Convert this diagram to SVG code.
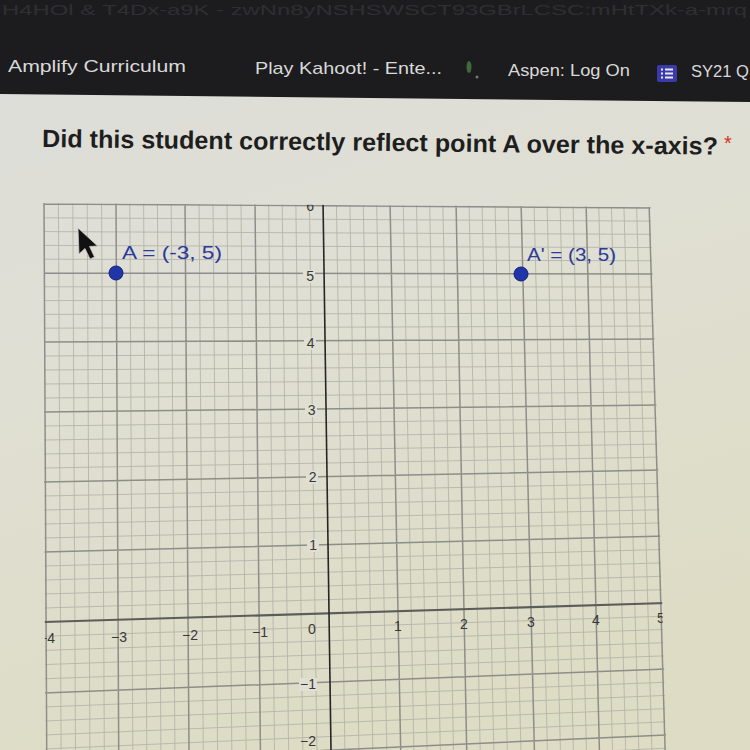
<svg xmlns="http://www.w3.org/2000/svg" width="750" height="750" viewBox="0 0 750 750">
<style>
.bm{font-family:"Liberation Sans","Noto Sans",sans-serif;font-size:17px;fill:#d9d9d9}
.title{font-family:"Liberation Sans","Noto Sans",sans-serif;font-size:25px;font-weight:bold;fill:#1e1e1e}
.minor{fill:none;stroke:#b4b5aa;stroke-width:0.9}
.major{fill:none;stroke:#8d8e89;stroke-width:1.5}
.lab{font-family:"Liberation Sans","Noto Sans",sans-serif;font-size:14px;fill:#383838}
.lbg{fill:#dfdfd3}
.ptlab{font-family:"Liberation Sans","Noto Sans",sans-serif;font-size:18px;fill:#2b3a9c}
.pt{fill:#1f35a8;stroke:#14207a;stroke-width:1}
</style>
<defs>
<linearGradient id="bg" x1="0" y1="0" x2="0.3" y2="1">
<stop offset="0" stop-color="#dddddb"/>
<stop offset="0.5" stop-color="#dfdfd3"/>
<stop offset="1" stop-color="#dedcc5"/>
</linearGradient>
<clipPath id="gridclip"><polygon points="42.5,203 650.5,207 666.5,750 45.5,750"/></clipPath>
</defs>
<rect width="750" height="750" fill="url(#bg)"/>
<g id="header">
<polygon points="0,0 750,0 750,102 0,94" fill="#1c1c1e"/>
<text x="2" y="15" font-family="Liberation Sans,sans-serif" font-size="15" fill="#2f2f32" textLength="745" lengthAdjust="spacingAndGlyphs">H4HOl &amp; T4Dx-a9K - zwNn8yNSHSWSCT93GBrLCSC:mHtTXk-a-mrq</text>
<text class="bm" x="8" y="72" textLength="178" lengthAdjust="spacingAndGlyphs">Amplify Curriculum</text>
<text class="bm" x="255" y="74" textLength="187" lengthAdjust="spacingAndGlyphs">Play Kahoot! - Ente...</text>
<ellipse cx="469" cy="67" rx="2.5" ry="6" fill="#3f6b3c"/>
<circle cx="477" cy="77" r="1.5" fill="#777"/>
<text class="bm" x="508" y="76" textLength="122" lengthAdjust="spacingAndGlyphs">Aspen: Log On</text>
<rect x="657" y="65" width="20" height="17" rx="2" fill="#3a3aa8"/>
<path d="M661 69.5h2M665 69.5h8M661 73.5h2M665 73.5h8M661 77.5h2M665 77.5h8" stroke="#e8e8f5" stroke-width="2"/>
<text class="bm" x="691" y="77" textLength="58" lengthAdjust="spacingAndGlyphs">SY21 Q</text>
</g>
<g id="question">
<text class="title" x="42" y="147" transform="rotate(0.65 42 147)" textLength="676" lengthAdjust="spacingAndGlyphs">Did this student correctly reflect point A over the x-axis?</text>
<text x="724" y="150" font-family="Liberation Sans,sans-serif" font-size="20" fill="#d93025">*</text>
</g>
<g id="grid" clip-path="url(#gridclip)">
<path class="minor" d="M58.4 200L61.1 750M72.8 200L75.5 750M87.2 200L89.9 750M101.6 200L104.3 750M129.8 200L132.8 750M143.6 200L146.8 750M157.4 200L160.9 750M171.2 200L174.9 750M199 200L203.3 750M213 200L217.6 750M227 200L231.8 750M241 200L246.1 750M268.6 200L274.5 750M282.2 200L288.6 750M295.8 200L302.8 750M309.4 200L316.9 750M336.4 200L344.9 750M349.8 200L358.9 750M363.2 200L372.8 750M376.6 200L386.8 750M403.2 200L413.9 750M416.4 200L427.1 750M429.6 200L440.3 750M442.8 200L453.5 750M469 200L480.2 750M482 200L493.8 750M495 200L507.3 750M508 200L520.9 750M534 200L547.4 750M547 200L560.4 750M560 200L573.4 750M573 200L586.4 750M598.6 200L612.5 750M611.2 200L625.7 750M623.8 200L638.8 750M636.4 200L651.9 750
M44 217.8L666 221.2M44 231.6L666 234.4M44 245.4L666 247.6M44 259.2L666 260.8M44 286.8L666 287M44 300.6L666 300M44 314.4L666 313M44 328.2L666 326M44 356L666 352.2M44 370L666 365.4M44 384L666 378.6M44 398L666 391.8M44 426L666 418M44 440L666 431M44 454L666 444M44 468L666 457M44 496L666 483.2M44 510L666 496.4M44 524L666 509.6M44 538L666 522.8M44 566L666 549.4M44 580L666 562.8M44 594L666 576.2M44 608L666 589.6M44 636.2L666 616.2M44 650.4L666 629.4M44 664.6L666 642.6M44 678.8L666 655.8M44 707L666 682.2M44 721L666 695.4M44 735L666 708.6M44 749L666 721.8M44 777L666 748.2"/>
<path class="major" d="M44 200L46.7 750M116 200L118.7 750M185 200L189 750M255 200L260.4 750M390 200L400.7 750M456 200L466.7 750M521 200L534.4 750M586 200L599.4 750M649 200L665.1 750
M44 204L666 208M44 273L666 274M44 342L666 339M44 412L666 405M44 482L666 470M44 552L666 536M44 693L666 669M44 763L666 735"/>
<path id="x-axis" d="M44 622L666 603" stroke="#5c5c5a" stroke-width="2.2" fill="none"/>
<path id="y-axis" d="M323 200L331 750" stroke="#262626" stroke-width="1.6" fill="none"/>
<g id="y-labels">
<rect class="lbg" x="303" y="270" width="12" height="13"/>
<rect class="lbg" x="304" y="337" width="12" height="13"/>
<rect class="lbg" x="305" y="404" width="12" height="13"/>
<rect class="lbg" x="306" y="471" width="12" height="13"/>
<rect class="lbg" x="307" y="539" width="12" height="13"/>
<rect class="lbg" x="299" y="678" width="18" height="13"/>
<text class="lab" x="314" y="211" text-anchor="end">6</text>
<text class="lab" x="314" y="281" text-anchor="end">5</text>
<text class="lab" x="314.5" y="348" text-anchor="end">4</text>
<text class="lab" x="315.5" y="415" text-anchor="end">3</text>
<text class="lab" x="316.5" y="482" text-anchor="end">2</text>
<text class="lab" x="317" y="550" text-anchor="end">1</text>
<text class="lab" x="316" y="689" text-anchor="end">−1</text>
</g>
<g id="x-labels" text-anchor="middle">
<text class="lab" x="47" y="643">−4</text>
<text class="lab" x="119" y="642">−3</text>
<text class="lab" x="190" y="640">−2</text>
<text class="lab" x="260" y="637">−1</text>
<text class="lab" x="312" y="634">0</text>
<text class="lab" x="398" y="631">1</text>
<text class="lab" x="464" y="629">2</text>
<text class="lab" x="531" y="627">3</text>
<text class="lab" x="596" y="625">4</text>
<text class="lab" x="661" y="623">5</text>
</g>
</g>
<text class="lab" x="316" y="746" text-anchor="end" font-size="12">−2</text>
<g id="point-A">
<circle class="pt" cx="116" cy="273" r="7"/>
<text class="ptlab" x="122" y="259" textLength="100" lengthAdjust="spacingAndGlyphs">A = (-3, 5)</text>
</g>
<g id="point-A-prime">
<circle class="pt" cx="521" cy="274" r="7"/>
<text class="ptlab" x="527" y="261" textLength="89" lengthAdjust="spacingAndGlyphs">A' = (3, 5)</text>
</g>
<g id="cursor">
<polygon points="78,228 79,254 85,248.5 90,259 94.5,257 89.5,246.5 97.5,246" fill="#111" stroke="#c8c8c8" stroke-width="0.8" stroke-linejoin="round"/>
</g>
</svg>
